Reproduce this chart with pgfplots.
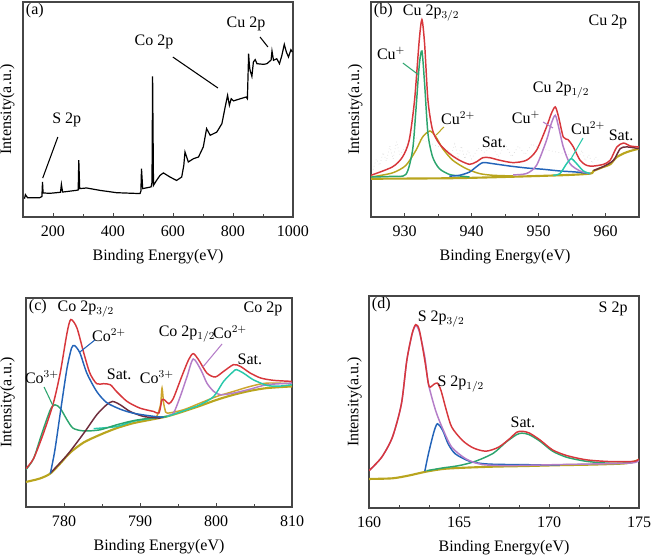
\documentclass[border=0pt]{standalone}
\usepackage{pgfplots}
\pgfplotsset{compat=1.18}
\usepackage{fontspec}
\setmainfont{Liberation Serif}
\definecolor{cred}{RGB}{215,55,60}
\definecolor{cgreen}{RGB}{45,165,110}
\definecolor{colive}{RGB}{185,165,30}
\definecolor{cblue}{RGB}{35,100,185}
\definecolor{cpurple}{RGB}{180,125,200}
\definecolor{cteal}{RGB}{40,200,170}
\definecolor{cbrown}{RGB}{110,45,60}
\definecolor{cgold}{RGB}{205,165,45}
\definecolor{axgray}{RGB}{70,70,70}
\tikzset{
  ann/.style={font=\fontsize{12}{14}\selectfont, inner sep=0pt},
  xfit/.style={line width=1.1pt, smooth, tension=0.45},
}
\pgfplotsset{
  xps/.style={
    scale only axis, axis line style={axgray, line width=0.8pt},
    ymin=0, ymax=100, ytick=\empty,
    xtick pos=bottom, tick align=inside,
    major tick length=3pt, minor tick length=2pt,
    tick style={axgray, line width=0.6pt},
    /pgf/number format/assume math mode=true,
    /pgf/number format/1000 sep={},
    ticklabel style={font=\fontsize{12}{14}\selectfont},
    xticklabel style={yshift=-3pt},
    label style={font=\fontsize{12}{14}\selectfont},
    xlabel={Binding Energy(eV)},
    ylabel={Intensity(a.u.)},
    xlabel style={at={(axis description cs:0.5,0)}, anchor=north, yshift=-21pt},
    clip=true,
  },
}
\begin{document}
\begin{tikzpicture}
\useasboundingbox (0,0) rectangle (489pt,415.5pt);
% ---------------- (a) survey
\begin{axis}[xps, at={(17.25pt,252.75pt)}, anchor=south west,
  width=202.5pt, height=161.25pt, xmin=100, xmax=1000,
  xtick={200,400,600,800,1000}, minor xtick={300,500,700,900},
  ylabel style={at={(axis description cs:-0.03,0.5)}, anchor=south, inner sep=0pt}]
\addplot[black, line width=0.9pt, no markers] coordinates {
(105,8.5)(108,10.4)(115,9)(156,9)(163,9.5)(165,16.3)(167,11.2)(189,11)(225,11.5)(228,15.2)(232,11.6)(278,12.4)(284,12.6)(286,26.4)(289,13.2)(312,13.5)(356,12.4)(412,11.3)(490,10.9)(493,12)(495,22.5)(499,13.2)(527,14)(530,16)(532,65.4)(535,14.7)(545,17)(557,19.4)(568,20.5)(590,18.6)(612,17)(629,18.6)(636,24)(640,30.2)(651,25.6)(668,27.1)(685,27.9)(701,32.6)(712,41.1)(724,38)(746,39.5)(763,43.4)(774,51.2)(782,56.6)(788,52)(794,55)(802,54)(824,55)(844,55.8)(848,55)(851,70)(852,76)(855,70)(857,68.2)(863,65.4)(868,72.1)(874,73.2)(880,71.3)(902,71)(913,71.3)(927,73)(930,77.2)(935,72.9)(946,73.6)(955,71.3)(963,75.2)(971,80.3)(978,76.7)(985,74.4)(993,77.8)(998,76.7)};
\node[ann, anchor=north west] at (rel axis cs:0.01,0.995) {(a)};
\node[ann] at (rel axis cs:0.162,0.451) {S 2p};
\draw[black, line width=0.8pt] (rel axis cs:0.129,0.372) -- (rel axis cs:0.073,0.181);
\node[ann] at (rel axis cs:0.485,0.814) {Co 2p};
\draw[black, line width=0.8pt] (rel axis cs:0.555,0.744) -- (rel axis cs:0.722,0.6);
\node[ann] at (rel axis cs:0.826,0.898) {Cu 2p};
\draw[black, line width=0.8pt] (rel axis cs:0.878,0.837) -- (rel axis cs:0.907,0.791);
\end{axis}
% ---------------- (b) Cu 2p
\begin{axis}[xps, at={(278.25pt,252.75pt)}, anchor=south west,
  width=201pt, height=161.25pt, xmin=925, xmax=965,
  xtick={930,940,950,960}, minor xtick={935,945,955},
  ylabel style={at={(axis description cs:-0.03,0.5)}, anchor=south, inner sep=0pt}]
% raw data (faint)
\addplot[gray!30, dotted, line width=0.5pt, no markers] coordinates {
(925.3,22)(925.8,27)(926.3,24)(926.8,30)(927.3,26)(927.8,33)(928.3,27)(928.8,35)(929.3,29)(929.8,31)(930.3,33)(930.8,38)
(936.5,31)(937,29)(937.5,34)(938,28)(938.5,33)(939,27)(939.5,31)(940,27)(941,32)(942,30)(943,33)(944,28)(945,34)(946,28)(947,33)(948,29)(949,34)(950,32)
(956,28)(956.5,31)(957,26)(957.5,29)(958,25)(958.5,28)(959,26)};
% baseline
\addplot[colive, xfit, line width=1.6pt, no markers] coordinates {
(925,17.8)(938.2,18.1)(953.2,19.4)(957.7,20.2)(958.2,21.4)(959.7,23.3)(960.7,24.5)(961.7,27.9)(963.2,30.2)(965,31.8)};
% Cu2+ (934)
\addplot[colive, xfit, no markers] coordinates {
(925,18.6)(928.2,20.5)(930.2,24)(931.7,31)(932.7,37.2)(933.8,40)(934.7,37.2)(935.7,31.8)(937.2,26.4)(939.2,22.5)(941.2,20.2)(943.2,19.4)(946.2,19.1)};
% Cu+ (932.6)
\addplot[cgreen, xfit, no markers] coordinates {
(925,18.6)(928,18.9)(930.2,19.8)(931.2,31)(931.7,49.6)(932.2,70.5)(932.6,77.2)(933,62)(933.5,38.8)(934.2,27.9)(935.2,22.5)(936.7,19.8)(938.2,19.1)(939.7,18.6)};
% Sat (942)
\addplot[cblue, xfit, no markers] coordinates {
(936.7,19)(938.2,19.4)(939.7,20.9)(940.7,23.3)(941.7,25.3)(943.2,24.8)(945.7,23.7)(948.2,22.8)(950.7,22.2)(953.2,21.4)(955.7,20.9)(957.7,20.2)};
% Cu+ (952.5)
\addplot[cpurple, xfit, no markers] coordinates {
(946.2,19.6)(948.2,20.2)(949.7,24)(951.2,35.7)(951.9,43.4)(952.5,47.3)(953,41.9)(953.7,32.6)(954.7,24.8)(956.2,21.4)(957.7,20.2)};
% Cu2+ (954.8)
\addplot[cteal, xfit, no markers] coordinates {
(952.2,19.4)(953.2,20.2)(954.2,24.8)(954.9,27.1)(955.7,24.8)(956.7,21.4)(957.7,20.2)};
% Sat (963)
\addplot[cbrown, xfit, no markers] coordinates {
(958.2,21.6)(959.7,23.5)(961.2,26.4)(962.2,31.8)(963.2,32.6)(965,31.8)};
% envelope
\addplot[cred, xfit, no markers] coordinates {
(925,19.4)(928.2,23.3)(929.7,27.9)(930.7,35.7)(931.5,54.3)(932.2,82.2)(932.6,91.8)(933,80.6)(933.5,54.3)(934.2,40.3)(935.2,34.1)(936.7,29.5)(938.2,26.4)(939.7,24.5)(940.7,25.6)(941.7,27.6)(942.7,27.6)(944.2,26.4)(946.2,25.3)(948.2,26.4)(949.7,31)(951.2,41.9)(951.9,48)(952.5,51.2)(953,46.5)(953.7,37.2)(954.4,36)(955.2,32.6)(956.2,26.4)(957.2,24)(958.2,23.7)(959.7,24.5)(960.7,26.4)(961.7,32.6)(962.7,34.4)(963.7,33)(965,32.6)};
\node[ann, anchor=north west] at (rel axis cs:0.01,0.995) {(b)};
\node[ann] at (rel axis cs:0.224,0.949) {Cu 2p$_{3/2}$};
\node[ann] at (rel axis cs:0.884,0.907) {Cu 2p};
\node[ann] at (rel axis cs:0.075,0.763) {Cu$^{+}$};
\draw[cgreen, line width=0.8pt] (rel axis cs:0.119,0.716) -- (rel axis cs:0.179,0.66);
\node[ann] at (rel axis cs:0.325,0.46) {Cu$^{2+}$};
\draw[colive, line width=0.8pt] (rel axis cs:0.272,0.419) -- (rel axis cs:0.243,0.381);
\node[ann] at (rel axis cs:0.459,0.349) {Sat.};
\node[ann] at (rel axis cs:0.709,0.591) {Cu 2p$_{1/2}$};
\node[ann] at (rel axis cs:0.578,0.465) {Cu$^{+}$};
\draw[cpurple, line width=0.8pt] (rel axis cs:0.642,0.442) -- (rel axis cs:0.679,0.414);
\node[ann] at (rel axis cs:0.81,0.414) {Cu$^{2+}$};
\draw[cteal, line width=0.8pt] (rel axis cs:0.791,0.367) -- (rel axis cs:0.746,0.27);
\node[ann] at (rel axis cs:0.933,0.381) {Sat.};
\end{axis}
% ---------------- (c) Co 2p
\begin{axis}[xps, at={(19.5pt,35.25pt)}, anchor=south west,
  width=199.5pt, height=156.75pt, xmin=775, xmax=810,
  xtick={780,790,800,810}, minor xtick={785,795,805},
  ylabel style={at={(axis description cs:-0.041,0.5)}, anchor=south, inner sep=0pt}]
% baseline
\addplot[colive, xfit, line width=1.6pt, no markers] coordinates {
(775,12)(776.8,13.6)(778.2,16)(779.5,20.8)(780.8,26)(782.6,30.9)(784.7,34.5)(786.9,37.7)(789.1,40.1)(791.3,41.7)(793.5,43.3)(795.7,45.7)(797.9,48.4)(800.1,51.3)(802.3,53.7)(804.5,55.6)(806.7,56.9)(810,57.7)};
% Co3+ 793 (gold)
\addplot[cgold, xfit, no markers] coordinates {
(791.5,42.2)(792.2,43.3)(792.7,49)(792.9,56.9)(793.1,50)(793.3,46.5)(793.6,44.9)(795.7,46.5)(797.9,49.7)(800.1,52.9)(802.3,55.3)(804.5,57.7)(806.7,59.3)(810,59)};
% Co2+ 797 (purple)
\addplot[cpurple, xfit, no markers] coordinates {
(793.5,43.6)(794.4,44.9)(795.3,52.9)(796.2,62.5)(797,70.8)(798,65.7)(798.8,59.3)(799.7,55.3)(800.6,53.7)(802.3,54.5)(804.5,56.4)(806.7,58.5)(810,59.3)};
% Sat 803 (teal)
\addplot[cteal, xfit, no markers] coordinates {
(783.9,37.5)(786.9,38.5)(789.1,41)(791.3,42.3)(793.5,43.3)(796.1,46.5)(797.9,48.9)(799.7,52.9)(801,60.1)(802.3,64.9)(802.7,65.7)(803.6,64.1)(804.9,60.9)(806.7,58.2)(808.2,57.8)(810,58.5)};
% Co3+ 779 (green)
\addplot[cgreen, xfit, no markers] coordinates {
(775,17.9)(776,23.2)(777.1,35.3)(778.2,46.5)(778.8,48.9)(779.5,47.3)(780.4,41.7)(781.2,37.7)(782.6,36.4)(784.7,36.9)(786.9,39.3)(789.1,41.3)(791.3,42.5)(793.5,43.3)};
% Sat 786 (dark)
\addplot[cbrown, xfit, no markers] coordinates {
(778.2,16.2)(780.4,24.8)(782.6,35.3)(784.3,44.1)(785.6,48.9)(786.4,50.5)(787.4,48.9)(788.7,45.7)(790.5,43.3)(792.7,42.5)};
% Co2+ 781 (blue)
\addplot[cblue, xfit, no markers] coordinates {
(778.2,16)(778.8,27.2)(779.7,49.7)(780.4,66.5)(781,76.1)(781.4,77.2)(782.1,73.7)(783,64.1)(784.3,55.3)(785.6,50)(787.4,46.8)(789.1,44.9)(791.3,43.6)(793.1,42.9)};
% envelope
\addplot[cred, xfit, no markers] coordinates {
(775,18.4)(776,23.2)(777.3,35.3)(778.6,49.7)(779.5,64.1)(780.4,83.3)(780.9,89.7)(781.7,85.7)(782.6,73.7)(783.4,64.1)(784.3,59)(785.2,59)(786.1,58.5)(786.9,55.3)(788.3,50.5)(790,47.3)(791.8,45.7)(792.5,45)(792.9,51.3)(793.3,51)(793.8,49.4)(794.4,52.1)(795.5,62.5)(796.4,70.5)(797,73.4)(797.7,70.5)(798.8,64.1)(799.9,62.2)(801,64.9)(802.3,68.1)(803.2,67.3)(804.5,64.1)(805.9,61.7)(807.6,60.6)(810,60.1)};
\node[ann, anchor=north west] at (rel axis cs:0.01,0.995) {(c)};
\node[ann] at (rel axis cs:0.225,0.947) {Co 2p$_{3/2}$};
\node[ann] at (rel axis cs:0.891,0.947) {Co 2p};
\node[ann] at (rel axis cs:0.312,0.823) {Co$^{2+}$};
\draw[cblue, line width=0.8pt] (rel axis cs:0.259,0.799) -- (rel axis cs:0.203,0.742);
\node[ann] at (rel axis cs:0.35,0.636) {Sat.};
\node[ann] at (rel axis cs:0.06,0.622) {Co$^{3+}$};
\draw[cgreen, line width=0.8pt] (rel axis cs:0.068,0.574) -- (rel axis cs:0.1,0.488);
\node[ann] at (rel axis cs:0.492,0.622) {Co$^{3+}$};
\node[ann] at (rel axis cs:0.605,0.828) {Co 2p$_{1/2}$};
\node[ann] at (rel axis cs:0.767,0.837) {Co$^{2+}$};
\draw[cpurple, line width=0.8pt] (rel axis cs:0.737,0.78) -- (rel axis cs:0.665,0.67);
\node[ann] at (rel axis cs:0.842,0.708) {Sat.};
\end{axis}
% ---------------- (d) S 2p
\begin{axis}[xps, at={(276.75pt,34.5pt)}, anchor=south west,
  width=202.5pt, height=159pt, xmin=160, xmax=175,
  xtick={160,165,170,175}, minor x tick num=2,
  ylabel style={at={(axis description cs:-0.026,0.5)}, anchor=south, inner sep=0pt}]
% baseline
\addplot[colive, xfit, line width=1.6pt, no markers] coordinates {
(160,13.7)(161.3,14)(162.2,15.3)(163.2,17.2)(164.1,18.4)(165,18.9)(166.9,19.5)(168.7,19.8)(170.6,20.2)(172.5,20.5)(174.3,21.1)(175,22.7)};
% Sat (green)
\addplot[cgreen, xfit, no markers] coordinates {
(163.2,17.6)(164.1,18.9)(165,20)(165.9,22)(166.9,25.8)(167.6,31)(168.2,34.6)(168.5,35.3)(168.9,34.6)(169.5,31.5)(170.2,26.8)(171,23.9)(172.1,22)(173.4,21.1)(174.5,21.3)(175,22.7)};
% S 2p1/2 (blue)
\addplot[cblue, xfit, no markers] coordinates {
(163.1,17.3)(163.3,25.5)(163.6,35.7)(163.8,39.7)(164.1,36.5)(164.4,30.2)(164.8,25.5)(165.6,22)(166.5,20.8)(167.8,20.5)(170.6,20.3)};
% S 2p3/2 (purple)
\addplot[cpurple, xfit, no markers] coordinates {
(160,17.6)(160.7,23.9)(161.3,33.4)(161.8,49.1)(162.1,69.6)(162.4,82.2)(162.6,86.1)(162.8,83)(163.1,71.2)(163.3,58.6)(163.7,46)(164.1,37.3)(164.6,28.7)(165.4,23.1)(166.3,20.5)(167.8,20)(170.6,20.5)(174.5,21.2)(175,22.7)};
% envelope
\addplot[cred, xfit, no markers] coordinates {
(160,17.6)(160.7,23.9)(161.3,33.4)(161.8,49.1)(162.1,69.6)(162.4,82.4)(162.6,86.5)(162.8,83.8)(163.1,69.6)(163.3,58.6)(163.4,57)(163.6,58.3)(163.8,58.9)(164,55.4)(164.3,46)(164.6,38.1)(165.2,31.8)(165.8,28.3)(166.5,26.8)(167.2,28.7)(167.8,32.6)(168.2,35.7)(168.5,36.2)(168.9,35.4)(169.5,32.1)(170.2,27.4)(171,24.7)(172.1,22.7)(173.4,21.9)(174.7,22)(175,23.1)};
\node[ann, anchor=north west] at (rel axis cs:0.01,0.995) {(d)};
\node[ann] at (rel axis cs:0.904,0.939) {S 2p};
\node[ann] at (rel axis cs:0.267,0.892) {S 2p$_{3/2}$};
\node[ann] at (rel axis cs:0.34,0.585) {S 2p$_{1/2}$};
\node[ann] at (rel axis cs:0.57,0.406) {Sat.};
\end{axis}
\end{tikzpicture}
\end{document}
